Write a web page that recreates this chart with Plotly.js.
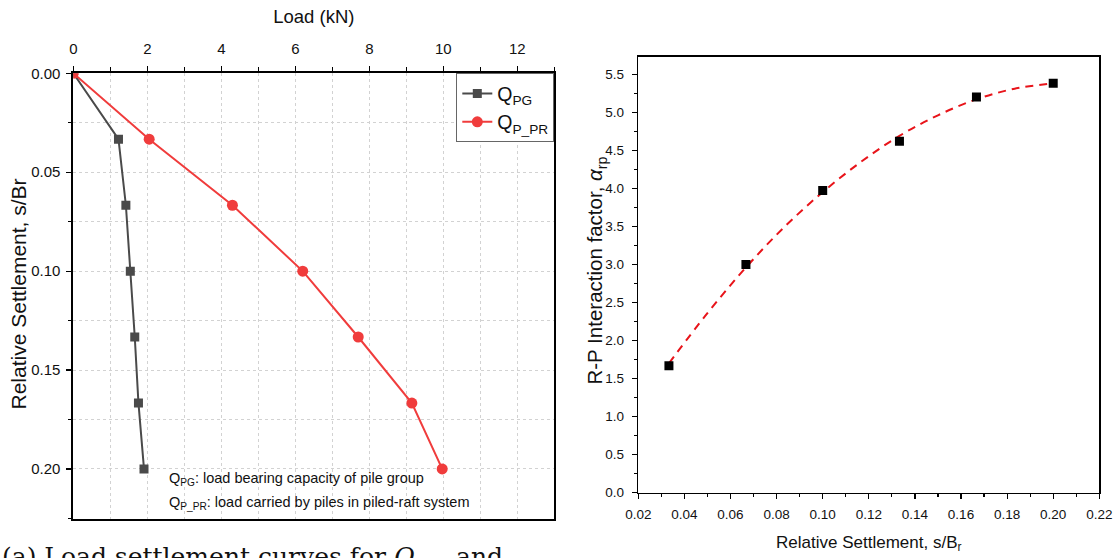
<!DOCTYPE html>
<html>
<head>
<meta charset="utf-8">
<script src="https://cdn.plot.ly/plotly-3.0.1.min.js"></script>
<style>html,body{margin:0;padding:0;background:#fff;}#chart{width:1118px;height:558px;}</style>
</head>
<body>
<div id="chart"></div>
<script>
// Left panel: load-settlement
const settlement = [0, 0.0333, 0.0667, 0.1, 0.1333, 0.1667, 0.2];
const loadPG = [0, 1.22, 1.42, 1.54, 1.66, 1.76, 1.91];
const loadPPR = [0, 2.05, 4.3, 6.2, 7.7, 9.15, 9.97];
const legendPG = 'Q<sub>PG</sub>';
const legendPPR = 'Q<sub>P_PR</sub>';

// Right panel: interaction factor
const relSettle = [0.0333, 0.0667, 0.1, 0.1333, 0.1667, 0.2];
const alphaRP = [1.67, 3.0, 3.97, 4.62, 5.2, 5.38];
const fitX = [0.0333, 0.05, 0.0667, 0.0833, 0.1, 0.1167, 0.1333, 0.15, 0.1667, 0.1833, 0.2];
const fitY = [1.70, 2.36, 2.96, 3.49, 3.95, 4.35, 4.69, 4.96, 5.17, 5.31, 5.38];

const FONT = 'Liberation Sans, Arial, sans-serif';

const traces = [
  {x: loadPG, y: settlement, xaxis: 'x', yaxis: 'y', mode: 'lines+markers', name: legendPG,
   line: {color: '#4a4a4a', width: 2}, marker: {symbol: 'square', size: 9, color: '#4a4a4a'}},
  {x: loadPPR, y: settlement, xaxis: 'x', yaxis: 'y', mode: 'lines+markers', name: legendPPR,
   line: {color: '#f03c3c', width: 2}, marker: {symbol: 'circle', size: 11, color: '#f03c3c'}},
  {x: fitX, y: fitY, xaxis: 'x2', yaxis: 'y2', mode: 'lines', showlegend: false,
   line: {color: '#e8141a', width: 2, dash: '8px,6px', shape: 'spline', smoothing: 1}},
  {x: relSettle, y: alphaRP, xaxis: 'x2', yaxis: 'y2', mode: 'markers', showlegend: false,
   marker: {symbol: 'square', size: 9, color: '#000'}}
];

const layout = {
  width: 1118, height: 558,
  margin: {l: 0, r: 0, t: 0, b: 0},
  paper_bgcolor: '#fff', plot_bgcolor: '#fff',
  font: {family: FONT, color: '#111', size: 13},
  showlegend: true,
  legend: {x: 0.4958, xanchor: 'right', y: 0.8686, yanchor: 'top', bgcolor: '#fff',
           bordercolor: '#666', borderwidth: 1, font: {size: 19.5, family: FONT, color: '#111'},
           tracegroupgap: 0, itemwidth: 30},
  xaxis: {domain: [0.0656, 0.4958], anchor: 'y', side: 'top', range: [0, 13], dtick: 2, tick0: 0,
          showline: true, linecolor: '#000', linewidth: 2, mirror: true,
          ticks: 'outside', ticklen: 5, tickwidth: 1.2, tickcolor: '#000', ticklabelstandoff: 6,
          showgrid: true, gridcolor: '#d2d2d2', griddash: 'dot', gridwidth: 1, zeroline: false,
          minor: {dtick: 1, ticks: 'outside', ticklen: 4, tickcolor: '#000', showgrid: true, gridcolor: '#d2d2d2', griddash: 'dot'},
          tickfont: {size: 15, family: FONT},
          title: {text: 'Load (kN)', font: {size: 18.5, family: FONT}, standoff: 12}},
  yaxis: {domain: [0.0699, 0.8686], anchor: 'x', range: [0.2253, 0], dtick: 0.05, tick0: 0, tickformat: '.2f',
          showline: true, linecolor: '#000', linewidth: 2, mirror: true,
          ticks: 'outside', ticklen: 5, tickwidth: 1.2, tickcolor: '#000', ticklabelstandoff: 3,
          showgrid: true, gridcolor: '#d2d2d2', griddash: 'dot', gridwidth: 1, zeroline: false,
          minor: {dtick: 0.025, ticks: 'outside', ticklen: 3, tickcolor: '#000', showgrid: true, gridcolor: '#d2d2d2', griddash: 'dot'},
          tickfont: {size: 15, family: FONT}},
  xaxis2: {domain: [0.5709, 0.9833], anchor: 'y2', range: [0.02, 0.22], dtick: 0.02, tick0: 0.02, tickformat: '.2f',
           showline: true, linecolor: '#000', linewidth: 1.5, mirror: true,
           ticks: 'outside', ticklen: 5, tickwidth: 1.2, tickcolor: '#000', ticklabelstandoff: 4,
           showgrid: false, zeroline: false,
           minor: {dtick: 0.01, ticks: 'outside', ticklen: 3, tickcolor: '#000', showgrid: false},
           tickfont: {size: 13.5, family: FONT},
           title: {text: 'Relative Settlement, s/B<sub>r</sub>', font: {size: 17, family: FONT}, standoff: 14}},
  yaxis2: {domain: [0.1170, 0.8984], anchor: 'x2', range: [0, 5.73], dtick: 0.5, tick0: 0, tickformat: '.1f',
           showline: true, linecolor: '#000', linewidth: 1.5, mirror: true,
           ticks: 'outside', ticklen: 5, tickwidth: 1.2, tickcolor: '#000', ticklabelstandoff: 5,
           showgrid: false, zeroline: false,
           minor: {dtick: 0.25, ticks: 'outside', ticklen: 3, tickcolor: '#000', showgrid: false},
           tickfont: {size: 13.5, family: FONT}},
  annotations: [
    {xref: 'paper', yref: 'paper', x: 0.0165, y: 0.473, xanchor: 'center', yanchor: 'middle', showarrow: false,
     textangle: -90, text: 'Relative Settlement, s/Br', font: {size: 21, family: FONT, color: '#111'}},
    {xref: 'paper', yref: 'paper', x: 0.533, y: 0.515, xanchor: 'center', yanchor: 'middle', showarrow: false,
     textangle: -90, text: 'R-P Interaction factor, <i>α</i><sub>rp</sub>', font: {size: 20.5, family: FONT, color: '#111'}},
    {xref: 'paper', yref: 'paper', x: 0.1494, y: 0.1416, xanchor: 'left', yanchor: 'middle', showarrow: false,
     text: 'Q<sub>PG</sub>: load bearing capacity of pile group', font: {size: 14.5, family: FONT, color: '#111'}},
    {xref: 'paper', yref: 'paper', x: 0.1494, y: 0.0991, xanchor: 'left', yanchor: 'middle', showarrow: false,
     text: 'Q<sub>P_PR</sub>: load carried by piles in piled-raft system', font: {size: 14.5, family: FONT, color: '#111'}},
    {xref: 'paper', yref: 'paper', x: 0.0, y: 0.0, xanchor: 'left', yanchor: 'middle', showarrow: false,
     text: '(a) Load settlement curves for <i>Q</i><sub>PG</sub>  and', font: {size: 25, family: 'DejaVu Serif, Liberation Serif, serif', color: '#111'}}
  ]
};

Plotly.newPlot('chart', traces, layout, {displayModeBar: false, staticPlot: true});
</script>
</body>
</html>
